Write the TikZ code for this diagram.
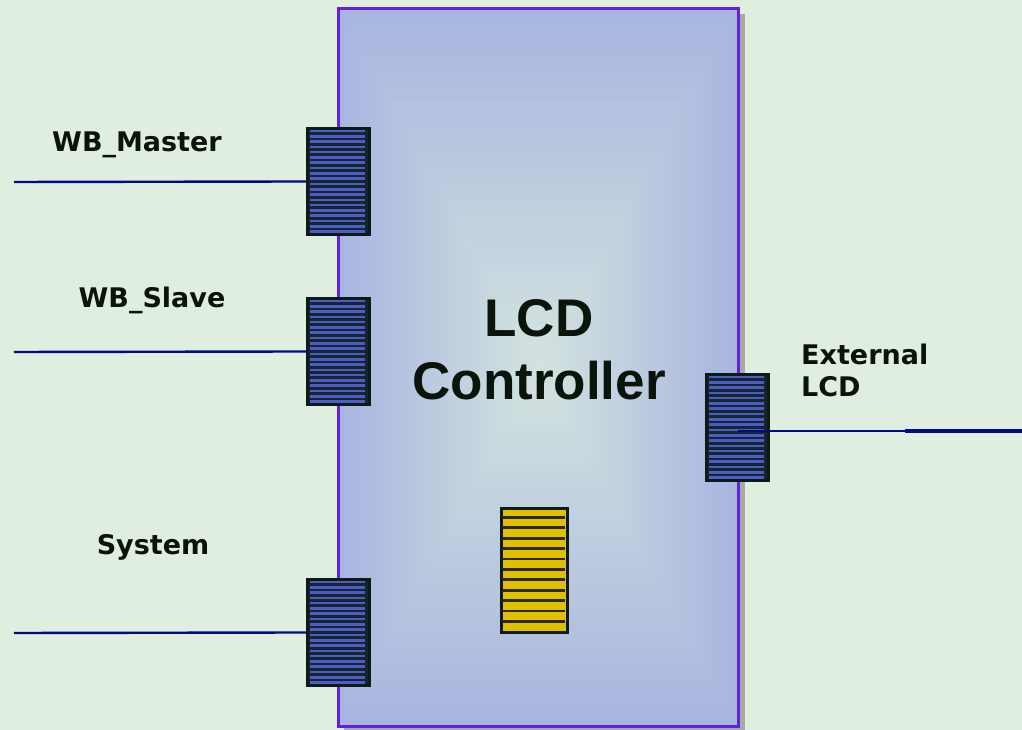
\documentclass[tikz,border=0pt]{standalone}
\usepackage{fontspec}
\setmainfont{DejaVu Sans}
\newfontfamily\arialfont{Liberation Sans}
\usetikzlibrary{calc}
\definecolor{bg}{HTML}{E0EEE0}
\definecolor{boxout}{HTML}{A8B5E0}
\definecolor{boxin}{HTML}{D4E3DE}
\definecolor{boxedge}{HTML}{6420E0}
\definecolor{shadowc}{HTML}{A3ABA3}
\definecolor{portedge}{HTML}{0C1A18}
\definecolor{portfill}{HTML}{16242C}
\definecolor{stripec}{HTML}{4C5CC8}
\definecolor{wirec}{HTML}{000A88}
\definecolor{ink}{HTML}{0A140A}
\definecolor{yel}{HTML}{E0C000}
\definecolor{yelsep}{HTML}{2A2A08}
\begin{document}
\begin{tikzpicture}[x=1pt,y=1pt,
  port/.style={draw=portedge, line width=3pt, fill=portfill, minimum width=62pt, minimum height=106pt, inner sep=0pt},
  stripe/.style={draw=stripec, line width=2.6pt},
  wire/.style={draw=wirec, line width=2.4pt},
  lbl/.style={font=\fontsize{27}{32}\selectfont\bfseries, text=ink, inner sep=0pt},
  title/.style={font=\arialfont\fontsize{53}{63}\selectfont\bfseries, text=ink, inner sep=0pt, align=center}]
\fill[bg] (0,0) rectangle (1022,730);
\useasboundingbox (0,0) rectangle (1022,730);
% shadow of main box
\fill[shadowc] (344,-3) rectangle (745,716);
% gradient fill
\foreach \i in {0,...,49}{
  \pgfmathtruncatemacro\pc{\i*2}
  \fill[boxin!\pc!boxout] (338+\i*4, 3+\i*7.19) rectangle (739-\i*4, 722-\i*7.19);
}
\node[draw=boxedge, line width=2.6pt, minimum width=400pt, minimum height=718pt, inner sep=0pt] (lcd) at (538.5,362.5) {};
\node[title] (ttl) at (539,380) {LCD\\Controller};
% ports
\node[port] (p1) at (338.5,548.5) {};
\node[port] (p2) at (338.5,378.5) {};
\node[port] (p3) at (338.5,97.5) {};
\node[port] (p4) at (737.5,302.5) {};
\foreach \p in {p1,p2,p3,p4}{
  \foreach \i in {0,...,19}{
    \draw[stripe] ($(\p.north west)+(3.5,-4-5.3*\i)$) -- ++(55,0);
  }
}
% yellow block
\node[draw=portedge, line width=3pt, fill=yel, minimum width=66pt, minimum height=124pt, inner sep=0pt] (mem) at (534.5,159.5) {};
\foreach \i in {1,...,11}{
  \draw[yelsep, line width=2.8pt] ($(mem.north west)+(1.5,-\i*10.4)$) -- ++(63,0);
}
% wires
\coordinate (w1) at (14,548);
\coordinate (w2) at (14,378);
\coordinate (w3) at (14,97);
\draw[wire] (w1) -- (p1.west);
\draw[wire] (w2) -- (p2.west);
\draw[wire] (w3) -- (p3.west);
\coordinate (rs) at ($(p4.center)+(0,-3.5)$);
\coordinate (rm) at (905,299);
\coordinate (re) at (1022,299);
\draw[wirec, line width=2pt] (rs) -- (rm);
\draw[wirec, line width=3.4pt] (rm) -- (re);
% labels
\node[lbl] (l1) at (137,585.5) {WB\_Master};
\node[lbl] (l2) at (152,430) {WB\_Slave};
\node[lbl] (l3) at (153,183) {System};
\node[lbl, align=left, anchor=north west] (l4) at (801,386) {External\\LCD};
\end{tikzpicture}
\end{document}
